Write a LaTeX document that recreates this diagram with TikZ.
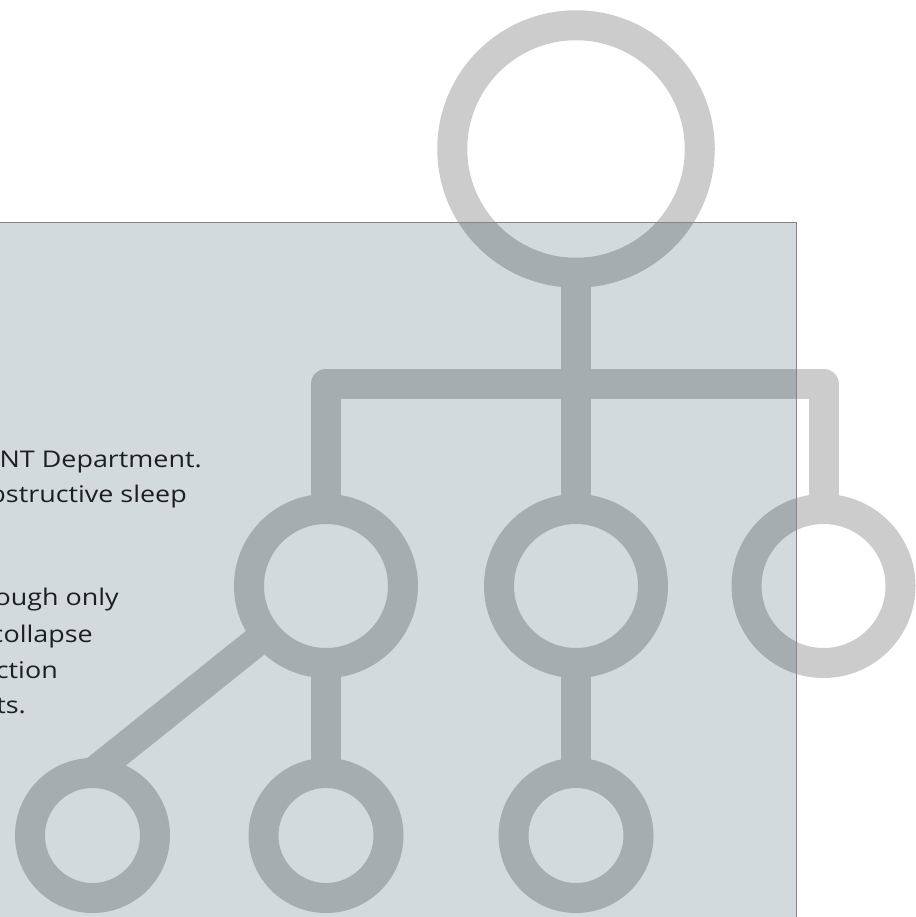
\documentclass[tikz,border=0pt]{standalone}
\usepackage{fontspec}
\setmainfont{Open Sans}[FakeStretch=1.17]
\definecolor{treelight}{HTML}{CCCCCC}
\definecolor{treedark}{HTML}{A6ADB1}
\definecolor{panelfill}{HTML}{D2DADE}
\definecolor{panelrule}{HTML}{858585}
\definecolor{textcol}{HTML}{1E1E1E}
\colorlet{treecol}{treelight}

% the org-chart icon: rings joined by thick bars
\newcommand\orgtree{%
  \node[ring=247.5pt] (root) at (576,149) {};
  \node[ring=154pt] (m1) at (326,586) {};
  \node[ring=154pt] (m2) at (576,586) {};
  \node[ring=154pt] (m3) at (823.5,586) {};
  \node[ring=125pt] (b1) at (92.5,835.5) {};
  \node[ring=125pt] (b2) at (326,835.5) {};
  \node[ring=125pt] (b3) at (576,835.5) {};
  \coordinate (barL) at (326,384);
  \coordinate (barR) at (823.5,384);
  \draw[link] (root.south) -- (m2.north);
  \draw[link] (m1.north) -- (barL) -- (barR) -- (m3.north);
  \draw[link] (m1.south) -- (b2.north);
  \draw[link] (m2.south) -- (b3.north);
  \draw[link] (b1.north) -- (m1);
}

\begin{document}
\begin{tikzpicture}[x=1pt,y=-1pt,
  ring/.style={circle, draw=treecol, line width=30pt, inner sep=0pt,
               outer sep=0pt, minimum size=#1},
  link/.style={draw=treecol, line width=30pt, line cap=butt, line join=round},
  txt/.style={anchor=base east, inner sep=0pt, text=textcol,
              font=\fontsize{23}{28}\selectfont}]
\useasboundingbox (0,0) rectangle (915,917);

% icon on the white page
\orgtree

% translucent panel over the lower left
\fill[panelfill] (-5,222.5) rectangle (796,925);
\begin{scope}
  \clip (-5,222.5) rectangle (796,925);
  \colorlet{treecol}{treedark}
  \orgtree
\end{scope}
\draw[panelrule, line width=1pt] (-5,222.5) -- (796,222.5) -- (796,925);

% body text running in from the left edge
\node[txt] (l1) at (202,467.5) {ENT Department.};
\node[txt] (l2) at (187,502) {obstructive sleep};
\node[txt] (l3) at (119,605) {although only};
\node[txt] (l4) at (93,642) {airway collapse};
\node[txt] (l5) at (58,678) {obstruction};
\node[txt] (l6) at (26,713) {patients.};
\end{tikzpicture}
\end{document}
